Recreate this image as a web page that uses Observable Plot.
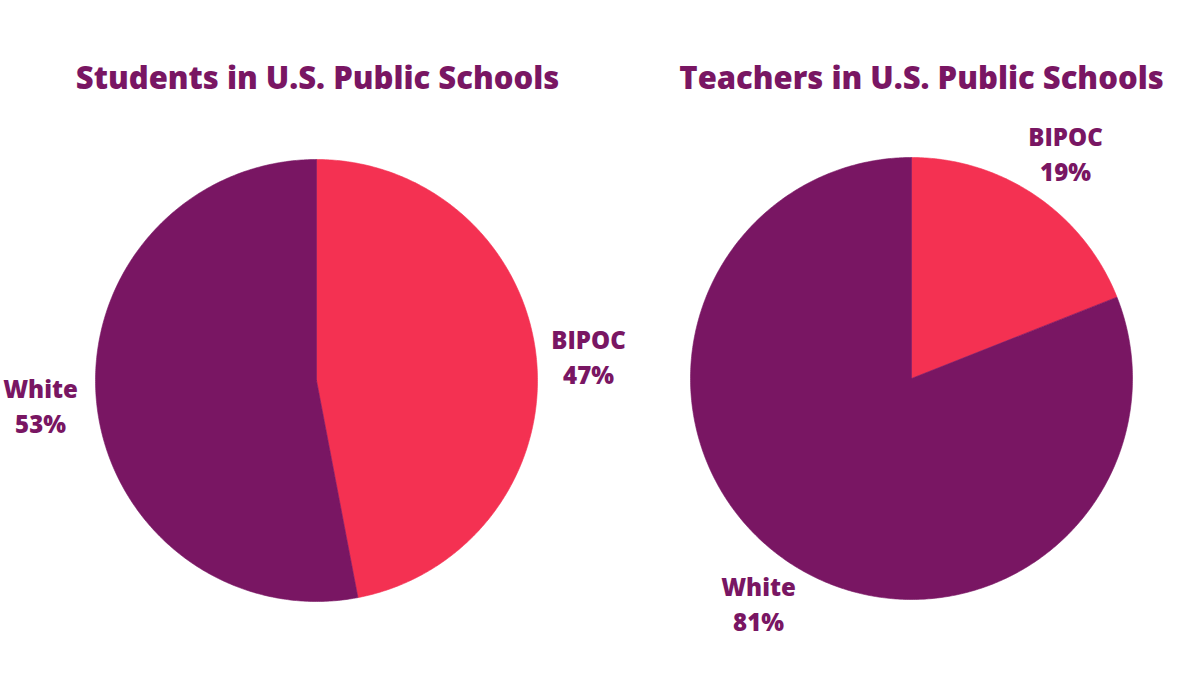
<!DOCTYPE html>
<html>
<head>
<meta charset="utf-8">
<script src="https://cdn.jsdelivr.net/npm/d3@7"></script>
<script src="https://cdn.jsdelivr.net/npm/@observablehq/plot@0.6"></script>
<style>
  html, body { margin: 0; padding: 0; background: #ffffff; }
  #chart { width: 1200px; height: 675px; }
</style>
</head>
<body>
<div id="chart"></div>
<script>
// ---- data ----
const titles = ["Students in U.S. Public Schools", "Teachers in U.S. Public Schools"];
const categories = ["BIPOC", "White"];
const studentShares = [47, 53];
const teacherShares = [19, 81];

// ---- layout (pixels) ----
const W = 1200, H = 675;
const purple = "#791663", red = "#F43152";
const panels = [
  {title: titles[0], values: studentShares, cx: 316, cy: 380, r: 221, titleX: 317,
   labels: {BIPOC: [588, 348], White: [40, 397]}},
  {title: titles[1], values: teacherShares, cx: 911, cy: 378, r: 221, titleX: 921,
   labels: {BIPOC: [1065, 145], White: [758, 595]}}
];

// build slice polygons via d3.pie (clockwise from 12 o'clock)
const pie = d3.pie().sort(null).value(d => d.value);
const slices = [];
const labelRows = [];
panels.forEach((p, pi) => {
  const arcs = pie(categories.map((c, i) => ({cat: c, value: p.values[i]})));
  arcs.forEach(a => {
    const key = pi + "-" + a.data.cat;
    slices.push({key, cat: a.data.cat, x: p.cx, y: p.cy});
    const n = Math.max(2, Math.ceil((a.endAngle - a.startAngle) / 0.01));
    for (let k = 0; k <= n; k++) {
      const t = a.startAngle + (a.endAngle - a.startAngle) * k / n;
      slices.push({key, cat: a.data.cat, x: p.cx + p.r * Math.sin(t), y: p.cy - p.r * Math.cos(t)});
    }
    slices.push({key, cat: a.data.cat, x: p.cx, y: p.cy});
    const [lx, ly] = p.labels[a.data.cat];
    labelRows.push({x: lx, y: ly, text: a.data.cat});
    labelRows.push({x: lx, y: ly + 35, text: a.data.value + "%"});
  });
});
const titleRows = panels.map(p => ({x: p.titleX, y: 88, text: p.title}));

const chart = Plot.plot({
  width: W, height: H,
  margin: 0,
  style: {background: "#ffffff", fontFamily: "'Open Sans', sans-serif"},
  x: {domain: [0, W], range: [0, W], axis: null},
  y: {domain: [0, H], range: [0, H], axis: null},
  color: {domain: categories, range: [red, purple]},
  marks: [
    Plot.line(slices, {x: "x", y: "y", z: "key", fill: "cat", stroke: "cat", strokeWidth: 0.6, curve: "linear"}),
    Plot.text(titleRows, {x: "x", y: "y", text: "text", fill: purple, fontSize: 31, fontWeight: 800, lineAnchor: "bottom", textAnchor: "middle"}),
    Plot.text(labelRows, {x: "x", y: "y", text: "text", fill: purple, fontSize: 24, fontWeight: 800, lineAnchor: "bottom", textAnchor: "middle"})
  ]
});
document.getElementById("chart").appendChild(chart);
</script>
</body>
</html>
